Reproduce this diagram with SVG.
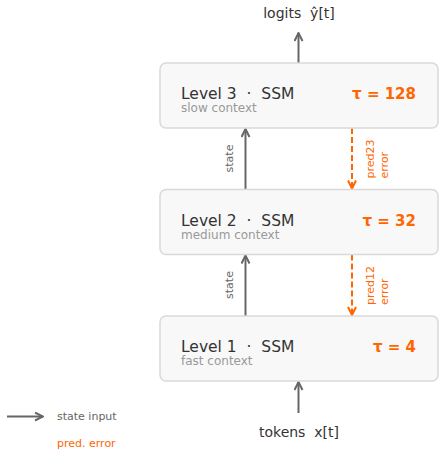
<svg xmlns="http://www.w3.org/2000/svg" width="445" height="455" viewBox="0 0 445 455">
<style>
text{font-family:"DejaVu Sans","Liberation Sans",sans-serif;white-space:pre}
.box{fill:#f8f8f8;stroke:#d9d9d9;stroke-width:1.5}
.title{font-size:15.5px;fill:#333}
.sub{font-size:12px;fill:#999}
.tau{font-size:15px;font-weight:bold;fill:#ff6600;text-anchor:end}
.io{font-size:14px;fill:#333;text-anchor:middle}
.lbl{font-size:11px;fill:#666}
.olbl{font-size:11px;fill:#ff6600}
.st{stroke:#666;stroke-width:2;fill:none}
.pe{stroke:#ff6600;stroke-width:2;fill:none;stroke-dasharray:6,3}
</style>
<defs>
<marker id="ag" viewBox="0 0 10 10" refX="9" refY="5" markerWidth="10" markerHeight="10" markerUnits="userSpaceOnUse" orient="auto">
<polyline points="1,1 9,5 1,9" fill="none" stroke="#666" stroke-width="2"/>
</marker>
<marker id="ao" viewBox="0 0 10 10" refX="9" refY="5" markerWidth="10" markerHeight="10" markerUnits="userSpaceOnUse" orient="auto">
<polyline points="1,1 9,5 1,9" fill="none" stroke="#ff6600" stroke-width="2"/>
</marker>
</defs>
<g id="connectors">
<line class="st" x1="298.5" y1="63" x2="298.5" y2="33" marker-end="url(#ag)"/>
<line class="st" x1="245.5" y1="189.5" x2="245.5" y2="129" marker-end="url(#ag)"/>
<line class="st" x1="245.5" y1="316" x2="245.5" y2="255.5" marker-end="url(#ag)"/>
<line class="pe" x1="352" y1="128" x2="352" y2="188.5" marker-end="url(#ao)"/>
<line class="pe" x1="352" y1="254.5" x2="352" y2="315" marker-end="url(#ao)"/>
<line class="st" x1="298.5" y1="413" x2="298.5" y2="382" marker-end="url(#ag)"/>
<text class="lbl" transform="translate(233,158.5) rotate(-90)" text-anchor="middle">state</text>
<text class="lbl" transform="translate(233,285) rotate(-90)" text-anchor="middle">state</text>
<text class="olbl" transform="translate(374,178.5) rotate(-90)">pred23</text>
<text class="olbl" transform="translate(387.5,178.5) rotate(-90)">error</text>
<text class="olbl" transform="translate(374,305) rotate(-90)">pred12</text>
<text class="olbl" transform="translate(387.5,305) rotate(-90)">error</text>
</g>
<g id="level3">
<rect class="box" x="160" y="63" width="278" height="65" rx="6"/>
<text class="title" x="181" y="99">Level 3  ·  SSM</text>
<text class="sub" x="181" y="112">slow context</text>
<text class="tau" x="416" y="99">τ = 128</text>
</g>
<g id="level2">
<rect class="box" x="160" y="189.5" width="278" height="65" rx="6"/>
<text class="title" x="181" y="225.5">Level 2  ·  SSM</text>
<text class="sub" x="181" y="238.5">medium context</text>
<text class="tau" x="416" y="225.5">τ = 32</text>
</g>
<g id="level1">
<rect class="box" x="160" y="316" width="278" height="65" rx="6"/>
<text class="title" x="181" y="352">Level 1  ·  SSM</text>
<text class="sub" x="181" y="365">fast context</text>
<text class="tau" x="416" y="352">τ = 4</text>
</g>
<g id="logits">
<text class="io" x="299" y="18">logits  ŷ[t]</text>
</g>
<g id="tokens">
<text class="io" x="299" y="437">tokens  x[t]</text>
</g>
<g id="legend">
<line class="st" x1="7" y1="416.5" x2="43" y2="416.5" marker-end="url(#ag)"/>
<text class="lbl" x="57" y="420">state input</text>
<text class="olbl" x="57" y="446.5">pred. error</text>
</g>
</svg>
